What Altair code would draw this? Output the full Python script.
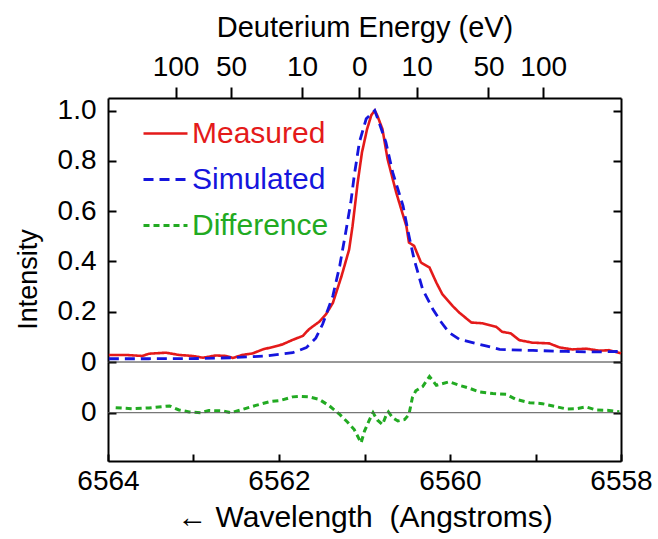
import altair as alt
import pandas as pd

# ---------------- data ----------------
meas_wl = [6563.99, 6563.79, 6563.60, 6563.52, 6563.32, 6563.17, 6563.01, 6562.89, 6562.74, 6562.62,
           6562.54, 6562.43, 6562.31, 6562.19, 6562.07, 6561.96, 6561.84, 6561.72, 6561.65, 6561.53,
           6561.45, 6561.37, 6561.27, 6561.18, 6561.14, 6561.08, 6561.03, 6560.97, 6560.92, 6560.88,
           6560.85, 6560.79, 6560.73, 6560.63, 6560.51, 6560.48, 6560.42, 6560.34, 6560.24, 6560.16,
           6560.09, 6559.97, 6559.89, 6559.75, 6559.62, 6559.46, 6559.39, 6559.29, 6559.19, 6559.04,
           6558.84, 6558.72, 6558.57, 6558.41, 6558.25, 6558.14, 6558.00]
meas_int = [0.028, 0.028, 0.024, 0.033, 0.037, 0.028, 0.024, 0.017, 0.026, 0.024,
            0.016, 0.028, 0.034, 0.050, 0.060, 0.070, 0.088, 0.104, 0.130, 0.160,
            0.190, 0.235, 0.340, 0.447, 0.540, 0.713, 0.833, 0.926, 0.982, 1.000,
            0.980, 0.926, 0.807, 0.675, 0.540, 0.475, 0.462, 0.396, 0.376, 0.316,
            0.270, 0.223, 0.196, 0.157, 0.154, 0.140, 0.120, 0.114, 0.087, 0.077,
            0.074, 0.058, 0.050, 0.053, 0.045, 0.047, 0.034]

sim_wl = [6563.99, 6563.52, 6562.93, 6562.55, 6562.15, 6561.84, 6561.68, 6561.57, 6561.49, 6561.37,
          6561.29, 6561.22, 6561.16, 6561.12, 6561.06, 6560.98, 6560.88, 6560.83, 6560.75, 6560.67,
          6560.61, 6560.55, 6560.48, 6560.42, 6560.32, 6560.20, 6560.10, 6560.01, 6559.89, 6559.77,
          6559.58, 6559.42, 6559.03, 6558.64, 6558.33, 6558.00]
sim_int = [0.013, 0.013, 0.014, 0.017, 0.024, 0.037, 0.057, 0.095, 0.150, 0.263,
           0.382, 0.515, 0.635, 0.741, 0.874, 0.967, 1.000, 0.953, 0.874, 0.754,
           0.688, 0.622, 0.502, 0.409, 0.289, 0.210, 0.157, 0.117, 0.090, 0.080,
           0.064, 0.050, 0.046, 0.042, 0.040, 0.042]

diff_wl = [6563.91, 6563.72, 6563.52, 6563.28, 6563.17, 6563.05, 6562.91, 6562.82, 6562.66, 6562.56,
           6562.43, 6562.27, 6562.11, 6561.98, 6561.84, 6561.76, 6561.65, 6561.53, 6561.41, 6561.29,
           6561.20, 6561.12, 6561.04, 6561.00, 6560.94, 6560.90, 6560.85, 6560.79, 6560.75, 6560.72,
           6560.67, 6560.61, 6560.53, 6560.48, 6560.44, 6560.40, 6560.32, 6560.24, 6560.16, 6560.01,
           6559.89, 6559.77, 6559.66, 6559.50, 6559.34, 6559.23, 6559.07, 6558.92, 6558.76, 6558.64,
           6558.52, 6558.41, 6558.29, 6558.14, 6558.02]
diff_val = [0.020, 0.016, 0.019, 0.027, 0.011, 0.003, 0.000, 0.009, 0.007, 0.000,
            0.013, 0.029, 0.044, 0.049, 0.063, 0.065, 0.063, 0.053, 0.027, -0.007,
            -0.037, -0.067, -0.120, -0.073, -0.027, 0.000, -0.029, -0.047, -0.013, 0.003,
            -0.020, -0.033, -0.027, -0.007, 0.060, 0.087, 0.104, 0.144, 0.109, 0.123,
            0.109, 0.097, 0.083, 0.076, 0.073, 0.053, 0.040, 0.036, 0.024, 0.015,
            0.016, 0.023, 0.011, 0.009, 0.004]

energy_tick_wl = [6563.21, 6562.56, 6561.73, 6561.06, 6560.39, 6559.55, 6558.91]
energy_tick_labels = ["100", "50", "10", "0", "10", "50", "100"]
wl_ticks = [6564, 6563, 6562, 6561, 6560, 6559, 6558]
wl_labels = [6564, 6562, 6560, 6558]
int_ticks = [0, 0.2, 0.4, 0.6, 0.8, 1.0]
series = ["Measured", "Simulated", "Difference"]
colors = ["#e41a1a", "#1515dd", "#22aa22"]
dashes = [[1, 0], [10, 6], [6, 4]]
widths = [2.6, 3.0, 3.0]

# ---------------- layout constants ----------------
FONT = "Liberation Sans"
W, H1, H2 = 513, 264, 99
FS = 28

upper_df = pd.concat([
    pd.DataFrame({"wl": meas_wl, "val": meas_int, "series": series[0]}),
    pd.DataFrame({"wl": sim_wl, "val": sim_int, "series": series[1]}),
], ignore_index=True)
diff_df = pd.DataFrame({"wl": diff_wl, "val": diff_val})
zero_df = pd.DataFrame({"v": [0.0]})

xscale = alt.Scale(domain=[6558, 6564], reverse=True, nice=False, zero=False)
y1scale = alt.Scale(domain=[0, 1.05], nice=False, zero=False)
y2scale = alt.Scale(domain=[-0.1921, 0.2017], nice=False, zero=False)

energy_expr = ("[" + ",".join("'%s'" % l for l in energy_tick_labels) + "][indexof(["
               + ",".join(str(v) for v in energy_tick_wl) + "], datum.value)]")
color_expr = ("datum.label == '%s' ? '%s' : datum.label == '%s' ? '%s' : '%s'"
              % (series[0], colors[0], series[1], colors[1], colors[2]))

legend = alt.Legend(title=None, orient="none", legendX=34, legendY=12,
                    symbolType="stroke", symbolSize=1936, symbolStrokeWidth=2.6,
                    labelFontSize=30, labelFont=FONT, labelOffset=3, rowPadding=7,
                    padding=0, labelColor={"expr": color_expr})

frame_axis = dict(labels=False, ticks=True, tickSize=8, tickWidth=2, tickColor="black",
                  domain=True, domainWidth=2, domainColor="black", title=None, grid=False)

# ---------------- upper panel ----------------
lines = alt.Chart(upper_df).mark_line().encode(
    x=alt.X("wl:Q", scale=xscale,
            axis=alt.Axis(orient="top", values=energy_tick_wl, labelExpr=energy_expr,
                          title="Deuterium Energy (eV)", titleFontSize=29, tickSize=11, tickWidth=2,
                          domain=True, domainWidth=2, labelPadding=6, titlePadding=11,
                          labelOverlap=False, labelFlush=False, labelBound=False)),
    y=alt.Y("val:Q", scale=y1scale,
            axis=alt.Axis(orient="left", values=int_ticks,
                          labelExpr="datum.value == 0 ? '0' : format(datum.value, '.1f')",
                          ticks=False, domain=False, labelPadding=12,
                          title="Intensity", titlePadding=15, titleFontSize=27, titleY=181)),
    color=alt.Color("series:N", scale=alt.Scale(domain=series, range=colors), legend=legend),
    strokeDash=alt.StrokeDash("series:N", scale=alt.Scale(domain=series, range=dashes), legend=legend),
    strokeWidth=alt.StrokeWidth("series:N", scale=alt.Scale(domain=series, range=widths), legend=None),
)

rule_u = alt.Chart(zero_df).mark_rule(color="#333333", strokeWidth=1).encode(
    y=alt.Y("v:Q", scale=y1scale,
            axis=alt.Axis(orient="right", offset=-W, values=int_ticks, **frame_axis))
)
frame_u = alt.Chart(zero_df).mark_rule(opacity=0).encode(
    y=alt.Y("v:Q", scale=y1scale,
            axis=alt.Axis(orient="left", offset=-W, values=int_ticks, **frame_axis))
)

upper = alt.layer(lines, rule_u, frame_u).resolve_axis(
    x="independent", y="independent").properties(width=W, height=H1)

# ---------------- lower panel ----------------
green = alt.Chart(diff_df).mark_line(color=colors[2], strokeWidth=3, strokeDash=dashes[2]).encode(
    x=alt.X("wl:Q", scale=xscale,
            axis=alt.Axis(orient="bottom", values=wl_labels, format="d", ticks=False,
                          domain=True, domainWidth=2, labelPadding=6,
                          title="\u2190 Wavelength \u00a0(Angstroms)", titleFontSize=30, titlePadding=7,
                          labelOverlap=False, labelFlush=False, labelBound=False)),
    y=alt.Y("val:Q", scale=y2scale,
            axis=alt.Axis(orient="left", values=[0], labelExpr="'0'", ticks=False,
                          domain=False, labelPadding=12, title=None)),
)
inv = alt.Chart(diff_df).mark_line(opacity=0).encode(
    x=alt.X("wl:Q", scale=xscale,
            axis=alt.Axis(orient="top", offset=-H2, values=wl_ticks, labels=False, ticks=True,
                          tickSize=7, tickWidth=2, tickColor="black", domain=False,
                          title=None, grid=False)),
    y=alt.Y("val:Q", scale=y2scale,
            axis=alt.Axis(orient="left", offset=-W, values=[0], **frame_axis)),
)
rule_l = alt.Chart(zero_df).mark_rule(color="#555555", strokeWidth=1).encode(
    y=alt.Y("v:Q", scale=y2scale,
            axis=alt.Axis(orient="right", offset=-W, values=[0], **frame_axis))
)

lower = alt.layer(green, inv, rule_l).resolve_axis(
    x="independent", y="independent").properties(width=W, height=H2)

chart = alt.vconcat(upper, lower, spacing=0, bounds="flush").resolve_scale(
    color="independent", strokeDash="independent", strokeWidth="independent"
).properties(
    padding={"left": 14, "top": 13, "right": 2, "bottom": 2}
).configure_view(stroke=None).configure_axis(
    labelFont=FONT, titleFont=FONT, labelFontSize=FS, titleFontSize=FS,
    labelColor="black", titleColor="black", titleFontWeight="normal",
    grid=False, tickColor="black", domainColor="black"
).configure_legend(labelFont=FONT)

chart.save("out.html", embed_options={"renderer": "svg", "actions": False})
